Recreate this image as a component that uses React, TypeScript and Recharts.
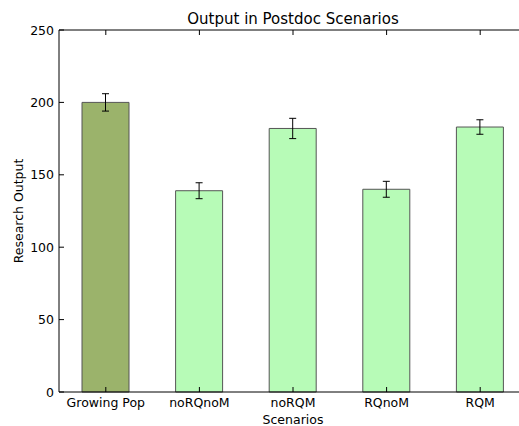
import { BarChart, Bar, XAxis, YAxis, Cell, ErrorBar, Label } from 'recharts';

const CATEGORIES = ['Growing Pop', 'noRQnoM', 'noRQM', 'RQnoM', 'RQM'];
const OUTPUT = [200, 139, 182, 140, 183];
const ERRORS = [6, 5.5, 7, 5.5, 5];
const Y_TICKS = [0, 50, 100, 150, 200, 250];

const BAR_COLORS = ['#9bb36b', '#b7fbb7', '#b7fbb7', '#b7fbb7', '#b7fbb7'];

const data = CATEGORIES.map((name, i) => ({ name, value: OUTPUT[i], err: ERRORS[i] }));

const FONT = '"DejaVu Sans", sans-serif';
const FS = 12.5;

// matplotlib classic: ticks point into the axes
function BottomTick({ x, y, payload }: any) {
    return (
        <g>
            <line x1={x} x2={x} y1={y} y2={y - 5} stroke="#000" strokeWidth={1} />
            <text x={x} y={y + 15} textAnchor="middle" fontSize={FS} fontFamily={FONT} fill="#000">
                {payload.value}
            </text>
        </g>
    );
}

function TopTick({ x, y }: any) {
    return <line x1={x} x2={x} y1={y} y2={y + 5} stroke="#000" strokeWidth={1} />;
}

function LeftTick({ x, y, payload }: any) {
    return (
        <g>
            <line x1={x} x2={x + 5} y1={y} y2={y} stroke="#000" strokeWidth={1} />
            <text x={x - 5} y={y} dy="0.36em" textAnchor="end" fontSize={FS} fontFamily={FONT} fill="#000">
                {payload.value}
            </text>
        </g>
    );
}

function YTitle({ viewBox }: any) {
    const cx = viewBox.x + 18;
    const cy = viewBox.y + viewBox.height / 2;
    return (
        <text x={cx} y={cy} transform={`rotate(-90 ${cx} ${cy})`} dy="0.36em" textAnchor="middle" fontSize={FS} fontFamily={FONT} fill="#000">
            Research Output
        </text>
    );
}

export default function App() {
    return (
        <div style={{ position: 'absolute', left: 0, top: 0, width: 519, height: 426, overflow: 'hidden', background: '#fff' }}>
            <BarChart width={528} height={426} data={data} margin={{ top: 29, right: 1, bottom: 0, left: 0 }}>
                <XAxis xAxisId="top" dataKey="name" orientation="top" height={1} tickSize={0} tickMargin={0} tick={<TopTick />} axisLine={{ stroke: '#000' }} tickLine={false} interval={0}>
                    <Label value="Output in Postdoc Scenarios" position="top" offset={5} fontSize={15} fontFamily={FONT} fill="#000" />
                </XAxis>
                <XAxis dataKey="name" height={34} tickSize={0} tickMargin={0} tick={<BottomTick />} axisLine={{ stroke: '#000' }} tickLine={false} interval={0}>
                    <Label value="Scenarios" position="insideBottom" offset={2} fontSize={FS} fontFamily={FONT} fill="#000" />
                </XAxis>
                <YAxis domain={[0, 250]} ticks={Y_TICKS} width={59} tickSize={0} tickMargin={0} tick={<LeftTick />} axisLine={{ stroke: '#000' }} tickLine={false} interval={0}>
                    <Label content={<YTitle />} />
                </YAxis>
                <Bar dataKey="value" barSize={47} stroke="#555" strokeWidth={1} isAnimationActive={false}>
                    {data.map((_, i) => <Cell key={i} fill={BAR_COLORS[i]} />)}
                    <ErrorBar dataKey="err" width={3.5} stroke="#000" strokeWidth={1} isAnimationActive={false} />
                </Bar>
                {/* invisible series so the top frame axis gets drawn */}
                <Bar xAxisId="top" dataKey={() => 0} fill="none" stroke="none" isAnimationActive={false} />
            </BarChart>
        </div>
    );
}
